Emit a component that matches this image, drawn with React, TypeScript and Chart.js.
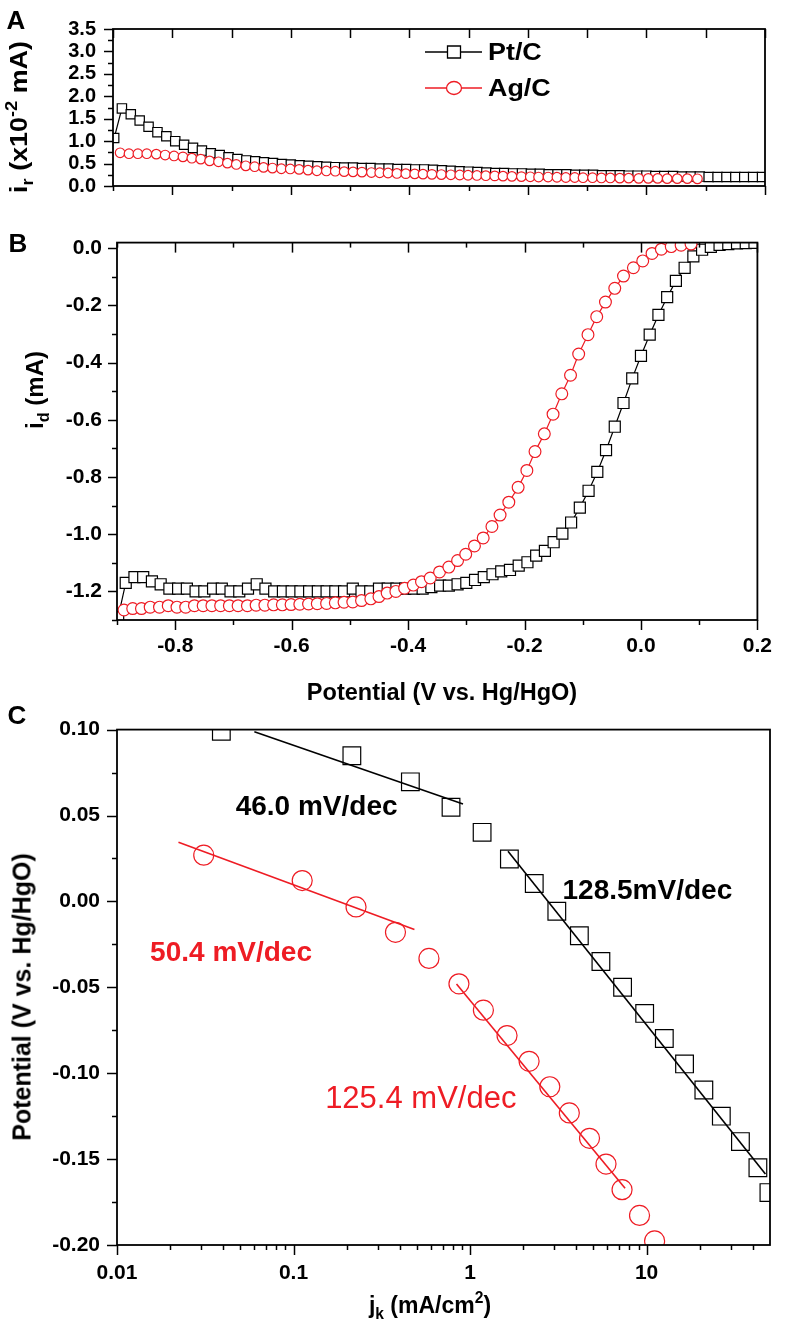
import React, { useEffect, useRef } from 'react';
import { Chart, registerables } from 'chart.js';
Chart.register(...registerables);

const FONT = "'Liberation Sans', Arial, Helvetica, sans-serif";
const RED = '#ee1c24';
const BLACK = '#000000';

// ---------- Panels A & B : potential sweep ----------
const POT_PT = [
  -0.898, -0.885, -0.870, -0.855, -0.840, -0.825, -0.810, -0.795, -0.780, -0.765,
  -0.750, -0.735, -0.720, -0.705, -0.690, -0.675, -0.660, -0.645, -0.630, -0.615,
  -0.600, -0.585, -0.570, -0.555, -0.540, -0.525, -0.510, -0.495, -0.480, -0.465,
  -0.450, -0.435, -0.420, -0.405, -0.390, -0.375, -0.360, -0.345, -0.330, -0.315,
  -0.300, -0.285, -0.270, -0.255, -0.240, -0.225, -0.210, -0.195, -0.180, -0.165,
  -0.150, -0.135, -0.120, -0.105, -0.090, -0.075, -0.060, -0.045, -0.030, -0.015,
  0.000, 0.015, 0.030, 0.045, 0.060, 0.075, 0.090, 0.105, 0.120, 0.135,
  0.150, 0.165, 0.180, 0.195,
];
const PT_IR = [
  1.07, 1.73, 1.60, 1.46, 1.32, 1.20, 1.11, 1.00, 0.92, 0.85,
  0.79, 0.73, 0.69, 0.64, 0.60, 0.57, 0.55, 0.53, 0.51, 0.49,
  0.48, 0.46, 0.45, 0.44, 0.43, 0.42, 0.41, 0.41, 0.40, 0.40,
  0.39, 0.39, 0.38, 0.38, 0.37, 0.37, 0.36, 0.35, 0.34, 0.33,
  0.32, 0.31, 0.30, 0.29, 0.29, 0.28, 0.28, 0.27, 0.27, 0.26,
  0.26, 0.26, 0.25, 0.25, 0.25, 0.24, 0.24, 0.24, 0.23, 0.23,
  0.23, 0.22, 0.22, 0.22, 0.21, 0.21, 0.21, 0.20, 0.20, 0.20,
  0.20, 0.20, 0.20, 0.20,
];
const PT_ID = [
  -1.29, -1.17, -1.15, -1.15, -1.165, -1.175, -1.19, -1.19, -1.19, -1.20,
  -1.20, -1.19, -1.19, -1.20, -1.20, -1.19, -1.175, -1.19, -1.20, -1.20,
  -1.20, -1.20, -1.20, -1.20, -1.20, -1.20, -1.20, -1.19, -1.20, -1.20,
  -1.19, -1.19, -1.19, -1.19, -1.19, -1.19, -1.185, -1.18, -1.18, -1.175,
  -1.17, -1.16, -1.15, -1.14, -1.13, -1.125, -1.11, -1.098, -1.075, -1.058,
  -1.028, -0.998, -0.959, -0.907, -0.848, -0.782, -0.706, -0.624, -0.541, -0.455,
  -0.376, -0.302, -0.233, -0.171, -0.114, -0.068, -0.028, -0.005, 0.005, 0.012,
  0.015, 0.017, 0.018, 0.019,
];
const POT_AG = [
  -0.888, -0.873, -0.858, -0.843, -0.827, -0.812, -0.797, -0.782, -0.767, -0.752,
  -0.737, -0.722, -0.707, -0.692, -0.676, -0.661, -0.646, -0.631, -0.616, -0.601,
  -0.586, -0.571, -0.556, -0.540, -0.525, -0.510, -0.495, -0.480, -0.464, -0.450,
  -0.436, -0.421, -0.406, -0.391, -0.377, -0.362, -0.346, -0.330, -0.315, -0.301,
  -0.286, -0.271, -0.256, -0.242, -0.227, -0.211, -0.196, -0.182, -0.166, -0.151,
  -0.136, -0.121, -0.107, -0.091, -0.076, -0.061, -0.045, -0.030, -0.013, 0.003,
  0.019, 0.035, 0.052, 0.069, 0.086,
];
const AG_IR = [
  0.74, 0.72, 0.72, 0.72, 0.71, 0.69, 0.67, 0.65, 0.62, 0.60,
  0.56, 0.54, 0.51, 0.48, 0.45, 0.43, 0.415, 0.40, 0.385, 0.38,
  0.37, 0.354, 0.34, 0.335, 0.33, 0.32, 0.315, 0.31, 0.30, 0.295,
  0.29, 0.28, 0.275, 0.27, 0.265, 0.26, 0.255, 0.25, 0.245, 0.24,
  0.235, 0.23, 0.225, 0.22, 0.215, 0.21, 0.205, 0.20, 0.20, 0.195,
  0.19, 0.19, 0.185, 0.185, 0.18, 0.18, 0.175, 0.175, 0.17, 0.17,
  0.17, 0.165, 0.165, 0.165, 0.16,
];
const AG_ID = [
  -1.265, -1.26, -1.26, -1.255, -1.255, -1.25, -1.255, -1.255, -1.25, -1.25,
  -1.25, -1.25, -1.25, -1.25, -1.25, -1.248, -1.248, -1.247, -1.247, -1.246,
  -1.245, -1.244, -1.243, -1.242, -1.240, -1.238, -1.237, -1.232, -1.226, -1.218,
  -1.206, -1.200, -1.189, -1.178, -1.166, -1.153, -1.132, -1.115, -1.092, -1.070,
  -1.041, -1.013, -0.973, -0.933, -0.888, -0.836, -0.777, -0.711, -0.649, -0.580,
  -0.509, -0.444, -0.370, -0.302, -0.239, -0.188, -0.140, -0.097, -0.068, -0.044,
  -0.018, -0.003, 0.006, 0.011, 0.015,
];

// ---------- Panel C : Tafel ----------
const JK_PT = [0.039, 0.214, 0.459, 0.78, 1.17, 1.67, 2.31, 3.10, 4.16, 5.51, 7.31, 9.75, 12.6, 16.4, 21.1, 26.5, 34.0, 42.7, 49.3];
const E_PT = [0.099, 0.0848, 0.0696, 0.0548, 0.0402, 0.0247, 0.0104, -0.0057, -0.020, -0.035, -0.050, -0.0652, -0.0798, -0.0946, -0.1098, -0.125, -0.1398, -0.155, -0.1695];
const JK_AG = [0.031, 0.112, 0.226, 0.378, 0.585, 0.865, 1.19, 1.62, 2.16, 2.83, 3.65, 4.75, 5.89, 7.26, 9.12, 11.1];
const E_AG = [0.0269, 0.0121, -0.0032, -0.018, -0.0332, -0.048, -0.0633, -0.0781, -0.0931, -0.1079, -0.1231, -0.1379, -0.1529, -0.1678, -0.1828, -0.1976];
const FIT_PT_LOW_X = [0.060, 0.912];
const FIT_PT_LOW_Y = [0.0987, 0.0567];
const FIT_PT_HIGH_X = [1.64, 47.1];
const FIT_PT_HIGH_Y = [0.0292, -0.1587];
const FIT_AG_LOW_X = [0.0223, 0.484];
const FIT_AG_LOW_Y = [0.0345, -0.0163];
const FIT_AG_HIGH_X = [0.838, 7.55];
const FIT_AG_HIGH_Y = [-0.0481, -0.167];

// ---------- Ticks ----------
const A_Y_TICKS = [0, 0.5, 1.0, 1.5, 2.0, 2.5, 3.0, 3.5];
const A_Y_LABELS = ['0.0', '0.5', '1.0', '1.5', '2.0', '2.5', '3.0', '3.5'];
const A_Y_MINOR = [0.25, 0.75, 1.25, 1.75, 2.25, 2.75, 3.25];
const X_MAJOR = [-0.8, -0.6, -0.4, -0.2, 0.0, 0.2];
const X_LABELS = ['-0.8', '-0.6', '-0.4', '-0.2', '0.0', '0.2'];
const X_MINOR = [-0.9, -0.7, -0.5, -0.3, -0.1, 0.1];
const B_Y_TICKS = [-1.2, -1.0, -0.8, -0.6, -0.4, -0.2, 0.0];
const B_Y_LABELS = ['-1.2', '-1.0', '-0.8', '-0.6', '-0.4', '-0.2', '0.0'];
const B_Y_MINOR = [-1.3, -1.1, -0.9, -0.7, -0.5, -0.3, -0.1];
const C_Y_TICKS = [-0.2, -0.15, -0.1, -0.05, 0.0, 0.05, 0.1];
const C_Y_LABELS = ['-0.20', '-0.15', '-0.10', '-0.05', '0.00', '0.05', '0.10'];
const C_Y_MINOR = [-0.175, -0.125, -0.075, -0.025, 0.025, 0.075];
const C_X_TICKS = [0.01, 0.1, 1, 10];
const C_X_LABELS = ['0.01', '0.1', '1', '10'];
const C_X_MINOR = [0.02, 0.03, 0.04, 0.05, 0.06, 0.07, 0.08, 0.09, 0.2, 0.3, 0.4, 0.5, 0.6, 0.7, 0.8, 0.9, 2, 3, 4, 5, 6, 7, 8, 9, 20, 30, 40];

const zip = (xs: number[], ys: number[]) => xs.map((x, i) => ({ x, y: ys[i] }));

type TickSet = { scale: string; side: 'left' | 'bottom' | 'top'; values: number[]; len: number; inward?: boolean };
type Note = { text: string; x: number; y: number; color: string; font: string };
type LegendItem = { label: string; color: string; style: 'rect' | 'circle' };

function framePlugin(ticks: TickSet[], notes: Note[] = [], legend: LegendItem[] = []) {
  return {
    id: 'frameTicks',
    afterDatasetsDraw(chart: any) {
      const ctx: CanvasRenderingContext2D = chart.ctx;
      const a = chart.chartArea;
      ctx.save();
      ctx.strokeStyle = BLACK;
      ctx.lineWidth = 1.8;
      ctx.strokeRect(a.left, a.top, a.right - a.left, a.bottom - a.top);
      ctx.lineWidth = 1.5;
      for (const t of ticks) {
        const s = chart.scales[t.scale];
        for (const v of t.values) {
          const p = Math.round(s.getPixelForValue(v)) + 0.5;
          ctx.beginPath();
          if (t.side === 'left') {
            ctx.moveTo(a.left, p);
            ctx.lineTo(a.left + (t.inward ? t.len : -t.len), p);
          } else if (t.side === 'bottom') {
            ctx.moveTo(p, a.bottom);
            ctx.lineTo(p, a.bottom + (t.inward ? -t.len : t.len));
          } else {
            ctx.moveTo(p, a.top);
            ctx.lineTo(p, a.top + (t.inward ? t.len : -t.len));
          }
          ctx.stroke();
        }
      }
      for (const n of notes) {
        const px = chart.scales.x.getPixelForValue(n.x);
        const py = chart.scales.y.getPixelForValue(n.y);
        ctx.font = n.font;
        ctx.fillStyle = n.color;
        ctx.textAlign = 'left';
        ctx.textBaseline = 'middle';
        ctx.fillText(n.text, px, py);
      }
      legend.forEach((it, i) => {
        const y = 52 + i * 36;
        ctx.strokeStyle = it.color;
        ctx.lineWidth = 1.6;
        ctx.beginPath();
        ctx.moveTo(425, y);
        ctx.lineTo(482, y);
        ctx.stroke();
        ctx.fillStyle = '#fff';
        ctx.lineWidth = 1.3;
        ctx.beginPath();
        if (it.style === 'rect') ctx.rect(447.5, y - 6, 13, 12);
        else ctx.ellipse(454, y, 7.5, 6.5, 0, 0, Math.PI * 2);
        ctx.fill();
        ctx.stroke();
        ctx.save();
        ctx.translate(488, y + 1);
        ctx.scale(1.12, 1);
        ctx.font = `bold 24px ${FONT}`;
        ctx.fillStyle = BLACK;
        ctx.textAlign = 'left';
        ctx.textBaseline = 'middle';
        ctx.fillText(it.label, 0, 0);
        ctx.restore();
      });
      ctx.restore();
    },
  };
}

function series(label: string, data: any[], color: string, style: string, radius: number, order: number, fill: string, line: boolean) {
  return {
    label,
    data,
    showLine: line,
    borderColor: color,
    borderWidth: 1.2,
    tension: 0,
    pointStyle: style,
    pointRadius: radius,
    pointBorderWidth: 1.2,
    pointBorderColor: color,
    pointBackgroundColor: fill,
    clip: 0,
    order,
  };
}

function fitLine(xs: number[], ys: number[], color: string) {
  return {
    data: zip(xs, ys),
    showLine: true,
    borderColor: color,
    borderWidth: 1.6,
    pointRadius: 0,
    clip: 0,
    order: 0,
  };
}

const tickFont = (size: number) => ({ family: FONT, size, weight: 'bold' as const });

function axis(min: number, max: number, opts: any) {
  return {
    type: opts.type || 'linear',
    min,
    max,
    grid: { display: false, drawTicks: false },
    border: { display: false },
    ticks: {
      display: !!opts.values,
      autoSkip: false,
      maxRotation: 0,
      padding: opts.padding || 0,
      color: BLACK,
      font: tickFont(opts.size || 21),
      callback: (_v: any, i: number) => (opts.labels ? opts.labels[i] : ''),
    },
    afterBuildTicks: (s: any) => {
      if (opts.values) s.ticks = opts.values.map((v: number) => ({ value: v }));
    },
    afterFit: (s: any) => {
      if (opts.width !== undefined) s.width = opts.width;
      if (opts.height !== undefined) s.height = opts.height;
    },
  };
}

function baseOptions(padding: any, scales: any) {
  return {
    responsive: false,
    animation: false,
    devicePixelRatio: 1,
    events: [],
    layout: { padding },
    plugins: { legend: { display: false }, tooltip: { enabled: false } },
    scales,
  };
}

function configA(): any {
  return {
    type: 'scatter',
    data: {
      datasets: [
        series('Pt/C', zip(POT_PT, PT_IR), BLACK, 'rect', 6.6, 1, '#fff', true),
        series('Ag/C', zip(POT_AG, AG_IR), RED, 'circle', 4.8, 0, '#fff', true),
      ],
    },
    options: baseOptions({ left: 53, right: 21, top: 12, bottom: 0 }, {
      x: axis(-0.9, 0.2, { height: 12 }),
      y: axis(0, 3.5, { values: A_Y_TICKS, labels: A_Y_LABELS, width: 60, padding: 17, size: 20 }),
    }),
    plugins: [
      framePlugin(
        [
          { scale: 'y', side: 'left', values: A_Y_TICKS, len: 9 },
          { scale: 'y', side: 'left', values: A_Y_MINOR, len: 5 },
          { scale: 'x', side: 'bottom', values: X_MAJOR, len: 9 },
          { scale: 'x', side: 'bottom', values: X_MINOR, len: 5 },
          { scale: 'x', side: 'top', values: X_MAJOR, len: 9, inward: true },
          { scale: 'x', side: 'top', values: X_MINOR, len: 9, inward: true },
        ],
        [],
        [
          { label: 'Pt/C', color: BLACK, style: 'rect' },
          { label: 'Ag/C', color: RED, style: 'circle' },
        ]
      ),
    ],
  };
}

function configB(): any {
  return {
    type: 'scatter',
    data: {
      datasets: [
        series('Pt/C', zip(POT_PT, PT_ID), BLACK, 'rect', 7.8, 1, '#fff', true),
        series('Ag/C', zip(POT_AG, AG_ID), RED, 'circle', 5.9, 0, '#fff', true),
      ],
    },
    options: baseOptions({ left: 47, right: 18, top: 17, bottom: 0 }, {
      x: axis(-0.9, 0.2, { values: X_MAJOR, labels: X_LABELS, height: 80, padding: 14 }),
      y: axis(-1.3, 0.02, { values: B_Y_TICKS, labels: B_Y_LABELS, width: 70, padding: 15 }),
    }),
    plugins: [
      framePlugin([
        { scale: 'y', side: 'left', values: B_Y_TICKS, len: 9 },
        { scale: 'y', side: 'left', values: B_Y_MINOR, len: 5 },
        { scale: 'x', side: 'bottom', values: X_MAJOR, len: 10 },
        { scale: 'x', side: 'bottom', values: X_MINOR, len: 5 },
        { scale: 'x', side: 'top', values: X_MAJOR, len: 10, inward: true },
        { scale: 'x', side: 'top', values: X_MINOR, len: 5, inward: true },
      ]),
    ],
  };
}

function configC(): any {
  return {
    type: 'scatter',
    data: {
      datasets: [
        series('Pt/C', zip(JK_PT, E_PT), BLACK, 'rect', 12.5, 1, 'rgba(0,0,0,0)', false),
        series('Ag/C', zip(JK_AG, E_AG), RED, 'circle', 10, 1, 'rgba(0,0,0,0)', false),
        fitLine(FIT_PT_LOW_X, FIT_PT_LOW_Y, BLACK),
        fitLine(FIT_PT_HIGH_X, FIT_PT_HIGH_Y, BLACK),
        fitLine(FIT_AG_LOW_X, FIT_AG_LOW_Y, RED),
        fitLine(FIT_AG_HIGH_X, FIT_AG_HIGH_Y, RED),
      ],
    },
    options: baseOptions({ left: 47, right: 16, top: 18, bottom: 0 }, {
      x: axis(0.01, 50, { type: 'logarithmic', values: C_X_TICKS, labels: C_X_LABELS, height: 80, padding: 16 }),
      y: axis(-0.2, 0.1, { values: C_Y_TICKS, labels: C_Y_LABELS, width: 70, padding: 17 }),
    }),
    plugins: [
      framePlugin(
        [
          { scale: 'y', side: 'left', values: C_Y_TICKS, len: 10 },
          { scale: 'y', side: 'left', values: C_Y_MINOR, len: 5 },
          { scale: 'x', side: 'bottom', values: C_X_TICKS, len: 10 },
          { scale: 'x', side: 'bottom', values: C_X_MINOR, len: 5 },
        ],
        [
          { text: '46.0 mV/dec', x: 0.047, y: 0.0545, color: BLACK, font: `bold 28px ${FONT}` },
          { text: '128.5mV/dec', x: 3.34, y: 0.0059, color: BLACK, font: `bold 28px ${FONT}` },
          { text: '50.4 mV/dec', x: 0.0154, y: -0.0302, color: RED, font: `bold 28px ${FONT}` },
          { text: '125.4 mV/dec', x: 0.151, y: -0.1152, color: RED, font: `31px ${FONT}` },
        ]
      ),
    ],
  };
}

const Sub = ({ children }: any) => (
  <span style={{ fontSize: '0.68em', position: 'relative', top: '0.38em' }}>{children}</span>
);
const Sup = ({ children }: any) => (
  <span style={{ fontSize: '0.68em', position: 'relative', top: '-0.62em' }}>{children}</span>
);

function Label({ x, y, rot = 0, size, sx = 1, children, color = BLACK, weight = 'bold' }: any) {
  return (
    <div
      style={{
        position: 'absolute',
        left: x,
        top: y,
        transform: `translate(-50%, -50%) rotate(${rot}deg) scale(${sx}, 1)`,
        fontSize: size,
        fontWeight: weight as any,
        whiteSpace: 'nowrap',
        lineHeight: 1,
        color,
        fontFamily: FONT,
      }}
    >
      {children}
    </div>
  );
}

export default function App() {
  const refA = useRef<HTMLCanvasElement>(null);
  const refB = useRef<HTMLCanvasElement>(null);
  const refC = useRef<HTMLCanvasElement>(null);

  useEffect(() => {
    const charts = [
      new Chart(refA.current as HTMLCanvasElement, configA()),
      new Chart(refB.current as HTMLCanvasElement, configB()),
      new Chart(refC.current as HTMLCanvasElement, configC()),
    ];
    return () => charts.forEach((c) => c.destroy());
  }, []);

  const canvasStyle = (top: number, h: number): React.CSSProperties => ({
    position: 'absolute',
    left: 0,
    top,
    width: 786,
    height: h,
  });

  return (
    <div style={{ position: 'absolute', left: 0, top: 0, width: 786, height: 1325, background: '#fff', overflow: 'hidden' }}>
      <canvas ref={refA} width={786} height={215} style={canvasStyle(0, 215)} />
      <canvas ref={refB} width={786} height={485} style={canvasStyle(215, 485)} />
      <canvas ref={refC} width={786} height={625} style={canvasStyle(700, 625)} />

      <Label x={16} y={20} size={26}>A</Label>
      <Label x={18} y={243} size={26}>B</Label>
      <Label x={17} y={715} size={26}>C</Label>

      <Label x={19} y={117} rot={-90} size={24} sx={1.12}>
        i<Sub>r</Sub> (x10<Sup>-2</Sup> mA)
      </Label>
      <Label x={35} y={390} rot={-90} size={24}>
        i<Sub>d</Sub> (mA)
      </Label>
      <Label x={442} y={693} size={23.5}>Potential (V vs. Hg/HgO)</Label>
      <Label x={22} y={997} rot={-90} size={25}>Potential (V vs. Hg/HgO)</Label>
      <Label x={430} y={1305} size={23}>
        j<Sub>k</Sub> (mA/cm<Sup>2</Sup>)
      </Label>
    </div>
  );
}
